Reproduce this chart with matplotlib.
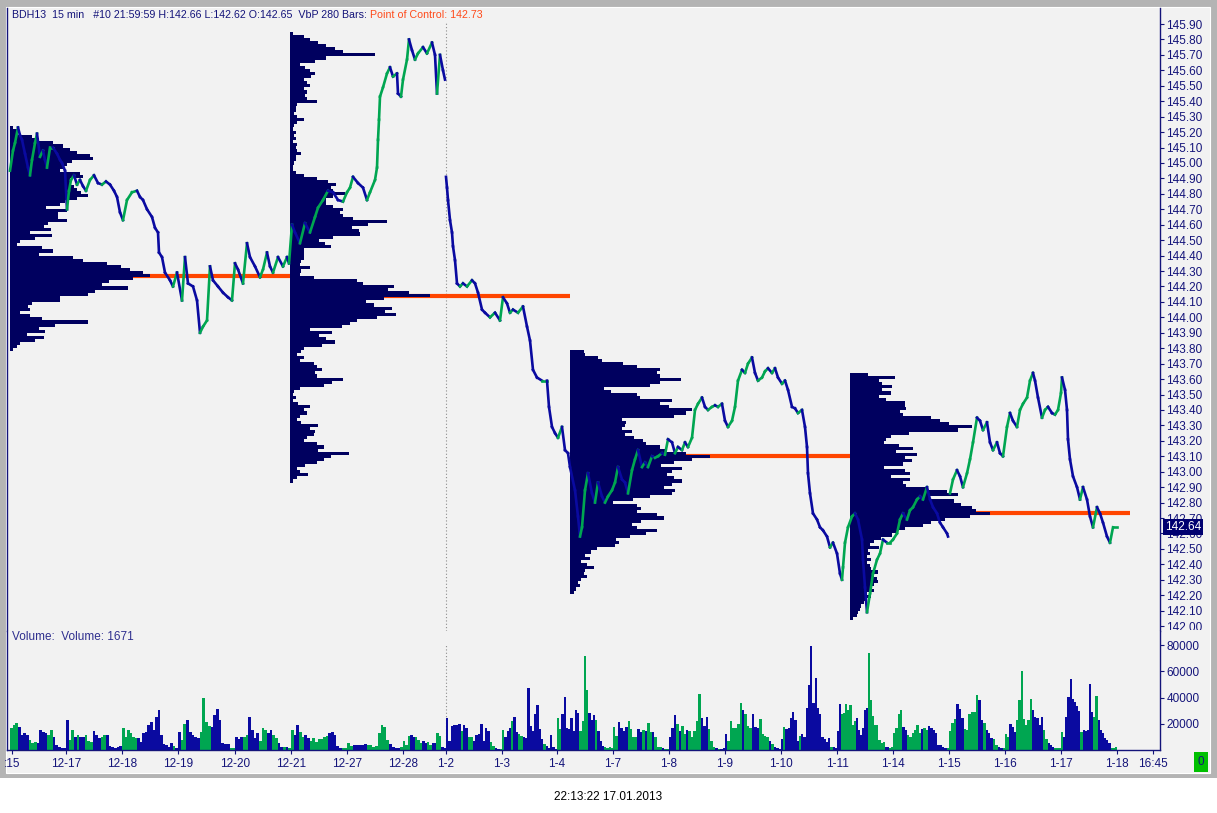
import numpy as np
import matplotlib
matplotlib.use("Agg")
import matplotlib.pyplot as plt
from matplotlib.collections import LineCollection
from matplotlib.patches import Rectangle

plt.rcParams['font.family'] = ['Liberation Sans', 'DejaVu Sans']

# ---- price path (bar index, close), three pieces split at the session gaps
px_dec = [(0,144.95),(3,145.08),(5,145.13),(8,145.23),(10,145.18),(12,145.15),(15,145.06),(18,144.97),(20,144.92),(22,145.02),
          (25,145.13),(27,145.19),(30,145.04),(33,145.08),(35,145.02),(37,144.97),(40,145.10),(43,145.10),(47,145.06),(50,145.02),
          (52,145.00),(55,144.95),(57,144.70),(59,144.82),(61,144.89),(64,144.92),(67,144.86),(70,144.89),(73,144.85),(76,144.82),
          (80,144.89),(84,144.92),(88,144.87),(92,144.86),(96,144.88),(100,144.86),(104,144.82),(107,144.78),(110,144.68),(113,144.63),
          (117,144.76),(122,144.81),(127,144.82),(130,144.78),(133,144.76),(137,144.70),(142,144.65),(145,144.58),(148,144.55),(149,144.42),
          (152,144.39),(155,144.29),(160,144.24),(163,144.20),(167,144.29),(172,144.11),(175,144.39),(178,144.22),(183,144.20),(187,144.11),
          (190,143.90),(193,143.94),(197,143.98),(200,144.33),(203,144.24),(208,144.20),(213,144.16),(218,144.13),(222,144.11),(225,144.35),
          (228,144.31),(233,144.22),(237,144.48),(240,144.39),(245,144.33),(250,144.26),(253,144.31),(257,144.42),(260,144.33),(263,144.29),
          (268,144.39),(273,144.33),(277,144.39),(279,144.35),
          (282,144.60),(285,144.55),(290,144.48),(295,144.61),(300,144.55),(305,144.65),(308,144.71),(313,144.76),(318,144.82),(323,144.81),
          (328,144.76),(333,144.75),(337,144.81),(340,144.84),(343,144.91),(348,144.87),(353,144.84),(357,144.76),(360,144.81),(365,144.89),
          (367,144.97),(368,145.15),(369,145.28),(370,145.43),(373,145.49),(377,145.58),(380,145.62),(383,145.56),(387,145.58),(388,145.45),
          (391,145.43),(393,145.54),(397,145.67),(399,145.80),(402,145.73),(405,145.67),(408,145.71),(413,145.75),(417,145.71),(422,145.78),
          (425,145.70),(427,145.45),(430,145.70),(433,145.60),(435,145.54)]

px_jan = [(436,144.91),(437,144.84),(438,144.76),(440,144.63),(442,144.55),(443,144.46),(445,144.37),(447,144.22),(450,144.20),(453,144.22),
          (457,144.20),(462,144.24),(465,144.22),(468,144.16),(472,144.05),(475,144.03),(480,144.00),(485,144.03),(490,143.98),(493,144.13),
          (497,144.09),(500,144.03),(503,144.05),(508,144.03),(513,144.07),(517,143.94),(520,143.85),(523,143.66),(527,143.61),(532,143.59),
          (537,143.59),(539,143.42),(542,143.29),(545,143.25),(548,143.22),(552,143.29),(555,143.14),(558,143.12),
          (560,143.03),(565,142.88),(568,142.71),(570,142.58),(572,142.64),(575,142.88),(578,142.99),(582,142.86),(585,142.80),(588,142.93),
          (592,142.84),(595,142.80),(598,142.84),(602,142.88),(605,142.93),(608,143.03),(612,142.95),(615,142.93),(618,142.86),(622,143.01),
          (625,143.08),(628,143.14),(632,143.03),(635,143.06),(638,143.03),(642,143.10),(645,143.09),(648,143.10),(652,143.12),(655,143.11),
          (658,143.21),(662,143.19),(665,143.12),(668,143.16),(672,143.14),(675,143.19),(678,143.16),(682,143.22),(685,143.40),(688,143.44),
          (692,143.48),(695,143.42),(698,143.40),(702,143.42),(705,143.43),(708,143.42),(712,143.44),(715,143.33),(718,143.29),(722,143.33),
          (725,143.42),(728,143.59),(732,143.66),(735,143.64),(738,143.70),(742,143.74),(745,143.64),(748,143.59),(752,143.61),(755,143.65),
          (758,143.67),(762,143.64),(765,143.67),(768,143.61),(772,143.57),(775,143.59),(778,143.53),(782,143.42),(785,143.41),(788,143.38),
          (792,143.40),(795,143.29),(797,143.16),(798,142.99),(800,142.86),(803,142.73),(807,142.69),(810,142.64),(813,142.62),(817,142.58),
          (820,142.51),(823,142.54),(827,142.47),(830,142.34),(832,142.30),(833,142.38),(835,142.54),(838,142.64),(842,142.71),(845,142.73),
          (848,142.69),(852,142.56),(853,142.43),(855,142.25),(857,142.09),(860,142.21),(863,142.34),(867,142.43),(870,142.47),(873,142.56),
          (877,142.54),(880,142.54),(883,142.56),(887,142.60),(890,142.69),(893,142.73),(897,142.69),(900,142.75),(903,142.77),(907,142.82),
          (910,142.84),(913,142.82),(917,142.90),(920,142.82),(923,142.77),(927,142.73),(930,142.67),(933,142.64),(937,142.60),(938,142.58)]

px_last = [(940,142.86),(943,142.95),(947,143.01),(950,142.97),(953,142.90),(957,142.99),(960,143.08),(963,143.19),(967,143.35),(970,143.33),
           (973,143.27),(977,143.32),(980,143.19),(983,143.14),(987,143.19),(990,143.12),(993,143.10),(997,143.29),(1000,143.38),(1003,143.33),
           (1007,143.29),(1010,143.40),(1013,143.44),(1017,143.48),(1020,143.59),(1023,143.64),(1025,143.59),(1028,143.48),(1032,143.35),(1035,143.40),
           (1038,143.42),(1042,143.38),(1045,143.37),(1048,143.40),(1051,143.51),(1052,143.61),(1055,143.53),(1057,143.40),(1058,143.21),(1060,143.08),
           (1063,142.97),(1067,142.90),(1070,142.82),(1073,142.90),(1077,142.82),(1080,142.71),(1083,142.64),(1087,142.77),(1090,142.73),(1093,142.67),
           (1097,142.58),(1100,142.54),(1103,142.64),(1107,142.64)]

# ---- volume (thousands) per trading day
vol_1214 = [17.1,18.9,20.2,17.6,11.3,13.1,11.3,7.6,5.0,6.3,5.0,15.6,13.9,13.1,11.3,15.1,10.1,3.8,2.5,1.3,1.3]
vol_1217 = [22.7,7.6,15.1,10.1,11.3,10.1,10.1,11.3,7.1,6.3,14.4,11.3,8.8,10.1,11.3,11.3,3.0,2.5,1.3,2.5,3.0]
vol_1218 = [16.4,10.1,15.1,12.6,9.6,8.8,8.8,6.3,12.6,13.9,18.9,21.4,15.1,25.2,30.2,11.3,4.5,3.8,2.5,5.0,3.0,1.3]
vol_1219 = [13.4,7.6,19.7,23.2,13.9,11.3,10.1,8.8,13.9,39.8,21.4,18.1,17.6,26.5,31.5,22.7,5.5,4.5,4.3,1.3,1.3]
vol_1220 = [10.1,8.1,9.6,10.1,11.3,25.2,15.1,8.8,12.6,7.1,16.4,15.1,12.6,15.1,11.3,8.8,5.0,2.5,2.5,2.5,1.3]
vol_1221 = [15.1,11.3,18.9,13.9,9.6,11.3,8.8,7.1,8.8,6.3,8.6,8.3,10.1,10.6,12.6,13.9,11.3,3.0,1.8,1.3,1.3]
vol_1227 = [5.0,3.0,3.8,3.8,3.8,3.8,4.5,3.8,3.8,2.5,3.0,12.6,19.4,17.6,7.6,4.3,2.5,1.3,1.3,2.5]
vol_1228 = [7.1,3.8,10.6,11.3,10.1,9.6,7.6,5.5,7.1,5.5,6.3,3.8,5.0,5.0,12.6,10.6,2.5,1.3]
vol_0102 = [24.2,7.1,18.4,18.9,18.9,19.7,14.6,18.9,17.1,9.6,9.6,7.1,11.6,12.1,19.7,7.1,17.1,14.6,5.8,3.3,1.5,1.0,1.0]
vol_0103 = [15.4,9.6,14.6,17.1,22.2,25.2,14.1,12.1,10.8,9.6,9.1,46.9,18.4,14.6,27.2,34.3,15.9,8.3,4.5,2.8,1.5,11.6,2.0,0.8]
vol_0104 = [24.2,15.9,27.7,40.3,16.6,15.9,24.7,14.6,30.2,28.5,14.6,22.2,71.3,45.4,28.5,22.7,26.7,22.7,14.6,7.1,3.3,2.0,1.3,2.5,1.5]
vol_0107 = [17.6,10.8,21.4,17.1,14.6,17.6,22.2,15.9,10.1,9.6,15.9,13.4,15.1,14.6,20.2,13.4,13.4,9.6,2.5,2.0,1.5,0.8,0.8]
vol_0108 = [9.6,17.1,26.7,19.7,14.6,18.4,12.1,15.1,14.6,9.6,14.6,22.2,42.8,24.7,18.4,25.2,15.9,7.1,2.0,1.5,0.8,0.8,1.3]
vol_0109 = [12.1,7.1,22.2,17.1,16.6,19.7,36.0,30.2,27.2,18.4,17.1,27.7,17.6,17.1,23.4,12.1,10.8,9.6,7.1,4.5,2.0,1.3,0.8]
vol_0110 = [8.3,17.6,15.9,17.1,24.2,29.2,22.7,7.1,10.8,12.1,9.6,32.3,49.9,78.9,36.0,54.9,32.3,27.2,9.6,8.3,5.8,9.1,2.5,2.0,1.5]
vol_0111 = [14.6,35.3,27.7,28.2,35.3,30.2,34.0,18.9,22.2,24.7,15.1,11.3,16.4,30.2,32.3,74.3,37.8,25.7,18.9,18.9,7.6,5.0,6.3,2.5,2.0,1.3,2.5]
vol_0114 = [13.1,16.4,27.7,30.7,17.6,15.1,11.3,10.1,12.6,15.1,19.4,12.6,15.9,16.4,15.1,18.4,17.1,15.6,12.6,3.8,3.8,2.0,1.3,1.8]
vol_0115 = [14.4,20.7,23.9,34.8,31.5,24.7,15.9,15.6,27.7,29.0,29.0,42.1,37.8,22.7,20.2,15.1,12.6,8.8,8.1,3.8,2.0,1.8,1.3]
vol_0116 = [12.1,9.6,19.7,17.6,13.9,22.7,37.8,60.0,23.9,18.9,22.7,39.1,30.7,25.2,24.7,18.9,25.2,15.1,8.1,5.0,3.8,2.0,1.3,1.3,1.3]
vol_0117 = [13.9,10.1,25.2,40.3,54.2,38.6,36.5,33.3,29.5,13.9,15.6,14.6,15.1,50.4,29.0,25.2,40.8,22.7,15.1,12.6,8.8,7.6,5.0,1.3,1.3,2.0]

day_start = [0, 56, 112, 168, 225, 281, 337, 393, 436, 492, 547, 603, 659, 715, 771, 827, 883, 939, 995, 1051]
last_bar = 1107

tick_bars = [2, 56, 112, 168, 225, 281, 337, 393, 436, 492, 547, 603, 659, 715, 771, 827, 883, 939, 995, 1051, 1107, 1143]
tick_labels = [':15', '12-17', '12-18', '12-19', '12-20', '12-21', '12-27', '12-28', '1-2', '1-3', '1-4',
               '1-7', '1-8', '1-9', '1-10', '1-11', '1-14', '1-15', '1-16', '1-17', '1-18', '16:45']

# ---- volume-by-price profiles (percent of the session POC), 0.02 rows from the top price down
prof1_top = 145.23
prof1 = [2,5,6,16,21,31,38,43,48,57,59,44,41,38,36,50,52,43,43,46,48,51,56,48,39,36,26,41,34,34,
         41,27,24,29,14,30,18,7,5,23,31,21,45,52,69,79,86,95,100,88,71,66,84,61,56,36,36,16,13,14,
         7,14,23,56,32,21,25,12,24,18,7,5,2]
prof2_top = 145.84
prof2 = [2,10,14,20,26,32,38,61,26,18,7,11,14,18,15,10,12,14,10,12,11,12,19,5,4,4,3,5,10,5,
         3,2,4,3,4,2,5,4,5,8,4,4,3,2,2,4,10,19,27,33,29,31,39,31,26,26,31,38,36,38,
         45,69,56,44,49,50,31,21,25,29,10,10,10,10,8,7,14,8,7,17,48,52,74,70,85,100,67,54,60,73,
         68,76,62,48,43,37,14,30,21,26,32,23,10,8,5,10,7,17,19,23,18,19,38,30,24,7,3,2,4,2,
         6,14,10,12,7,5,8,20,14,18,17,12,10,19,24,20,42,29,24,19,11,5,7,13,5,2]
prof3_top = 143.78
prof3 = [10,11,20,23,38,48,64,62,64,79,64,57,24,29,48,50,73,64,71,87,83,74,37,40,39,37,44,39,46,52,
         54,64,68,83,100,87,74,65,80,73,69,74,80,73,67,75,73,57,45,31,48,51,48,62,67,51,44,48,62,54,
         43,33,35,32,19,15,11,14,8,12,17,11,10,12,8,6,7,4,3]
prof4_top = 143.63
prof4 = [13,32,21,23,30,23,29,21,26,39,39,40,36,38,58,64,71,87,77,42,29,26,24,35,45,33,48,39,44,38,
         24,39,43,29,43,38,40,54,69,77,57,74,79,87,90,100,86,68,58,52,39,34,30,22,17,14,21,13,14,12,
         15,12,14,15,20,17,19,20,17,15,17,12,15,12,10,8,7,6,5,2]
prof_start = [0, 280, 560, 840]
prof_bars = 280

NAVY = '#14147a'
PROFILE = '#00005f'
UP = '#00a651'
DOWN = '#0a0aa0'
POC_C = '#ff4500'
BG = '#f2f2f2'

W, H = 1217, 813
fig = plt.figure(figsize=(W / 100, H / 100), dpi=100)


def fx(p):
    return p / W


def fy(p):
    return 1 - p / H


# window frame
fig.add_artist(Rectangle((0, fy(778)), 1, 778 / H, transform=fig.transFigure, fc='#b4b4b4', ec='none', zorder=-5))
fig.add_artist(Rectangle((fx(6), fy(773)), fx(1204), 766 / H, transform=fig.transFigure, fc=BG, ec='white', lw=0.8, zorder=-4))

ax_p = fig.add_axes([fx(7), fy(631), fx(1153), (631 - 8) / H])
ax_v = fig.add_axes([fx(7), fy(750), fx(1153), (750 - 631) / H], sharex=ax_p)

for ax in (ax_p, ax_v):
    ax.set_facecolor(BG)
    ax.spines['top'].set_visible(False)
    for s in ('left', 'right', 'bottom'):
        ax.spines[s].set_color(NAVY)
        ax.spines[s].set_linewidth(1.0)
    ax.yaxis.tick_right()
    ax.tick_params(axis='y', direction='out', length=3, width=0.8, color=NAVY,
                   labelcolor=NAVY, labelsize=8.5, pad=1.5)
ax_p.spines['bottom'].set_visible(False)

# price panel
ax_p.set_xlim(-3, 1150)
ax_p.set_ylim(141.968, 146.004)
price_ticks = np.round(np.arange(142.0, 145.95, 0.1), 2)
ax_p.set_yticks(price_ticks)
ax_p.set_yticklabels([f'{v:.2f}' for v in price_ticks])
ax_p.tick_params(axis='x', bottom=False, labelbottom=False)

profiles = [(prof1_top, prof1), (prof2_top, prof2), (prof3_top, prof3), (prof4_top, prof4)]
pocs = []
for start, (top, pct) in zip(prof_start, profiles):
    pct = np.array(pct, float)
    levels = top - 0.02 * np.arange(len(pct))
    poc = levels[np.argmax(pct)]
    pocs.append(poc)
    ax_p.hlines(poc, start, start + prof_bars, color=POC_C, lw=3.0, zorder=1.5)
    ax_p.barh(levels, pct / 100 * prof_bars / 2, height=0.02, left=start,
              color=PROFILE, lw=0, zorder=2)


def draw_price(ax, pts):
    b = np.array([p[0] for p in pts], float)
    c = np.array([p[1] for p in pts], float)
    seg = np.stack([np.column_stack([b[:-1], c[:-1]]), np.column_stack([b[1:], c[1:]])], axis=1)
    cols = [UP if d >= 0 else DOWN for d in np.diff(c)]
    ax.add_collection(LineCollection(seg, colors=cols, linewidths=1.9, zorder=3,
                                     capstyle='projecting', joinstyle='miter'))


for piece in (px_dec, px_jan, px_last):
    draw_price(ax_p, piece)

ax_p.axvline(435.5, ymin=0, ymax=(631 - 23) / 623, color='#8c8c8c', ls=(0, (1, 2)), lw=0.8, zorder=1)

last_close = px_last[-1][1]
ax_p.annotate(f'{last_close:.2f}', xy=(1, last_close), xycoords=('axes fraction', 'data'),
              xytext=(5, 0), textcoords='offset pixels', va='center', ha='left', color='white',
              fontsize=8.5, annotation_clip=False, zorder=10,
              bbox=dict(boxstyle='square,pad=0.15', fc='#000070', ec='none'))

# volume panel
all_pts = px_dec + px_jan + px_last
all_b = np.array([p[0] for p in all_pts], float)
all_c = np.array([p[1] for p in all_pts], float)

day_vols = [vol_1214, vol_1217, vol_1218, vol_1219, vol_1220, vol_1221, vol_1227, vol_1228,
            vol_0102, vol_0103, vol_0104, vol_0107, vol_0108, vol_0109, vol_0110, vol_0111,
            vol_0114, vol_0115, vol_0116, vol_0117]
day_end = day_start[1:] + [last_bar]
for s, e, vols in zip(day_start, day_end, day_vols):
    n = len(vols)
    w = (e - s) / n
    left = s + w * np.arange(n)
    c0 = np.interp(left, all_b, all_c)
    c1 = np.interp(left + w, all_b, all_c)
    cols = [UP if b >= a else DOWN for a, b in zip(c0, c1)]
    ax_v.bar(left, np.array(vols) * 1000, width=w, align='edge', color=cols, lw=0, zorder=2)

ax_v.set_ylim(0, 90700)
ax_v.set_yticks([20000, 40000, 60000, 80000])
ax_v.set_yticklabels(['20000', '40000', '60000', '80000'])
ax_v.set_xticks(tick_bars)
ax_v.set_xticklabels(tick_labels)
ax_v.tick_params(axis='x', direction='out', length=3, width=0.8, color=NAVY,
                 labelcolor=NAVY, labelsize=8.5, pad=3)
ax_v.axvline(435.5, ymin=0, ymax=105 / 119, color='#8c8c8c', ls=(0, (1, 2)), lw=0.8, zorder=1)

# hide the lower half of the lowest price label like the original
fig.add_artist(Rectangle((fx(1162), fy(639)), fx(46), 9 / H, transform=fig.transFigure,
                         fc=BG, ec='none', zorder=5))

# texts
hdr = fig.text(fx(12), fy(15), 'BDH13  15 min   #10 21:59:59 H:142.66 L:142.62 O:142.65  VbP 280 Bars: ',
               va='center', ha='left', color=NAVY, fontsize=7.7, zorder=6)
ax_p.annotate(f'Point of Control: {pocs[-1]:.2f}', xy=(1, 0.5), xycoords=hdr, va='center', ha='left',
              color='#ff4a1a', fontsize=7.7, annotation_clip=False)
fig.text(fx(12), fy(637), 'Volume:  Volume: 1671', va='center', ha='left', color='#2e2e8e', fontsize=8.5, zorder=6)
fig.text(fx(1201), fy(762), '0', va='center', ha='center', color=NAVY, fontsize=8.5, zorder=6,
         bbox=dict(boxstyle='square,pad=0.3', fc='#00c000', ec='none'))
fig.text(fx(608), fy(797), '22:13:22 17.01.2013', va='center', ha='center', color='black', fontsize=8.5)

fig.savefig('out.png', dpi=100)
